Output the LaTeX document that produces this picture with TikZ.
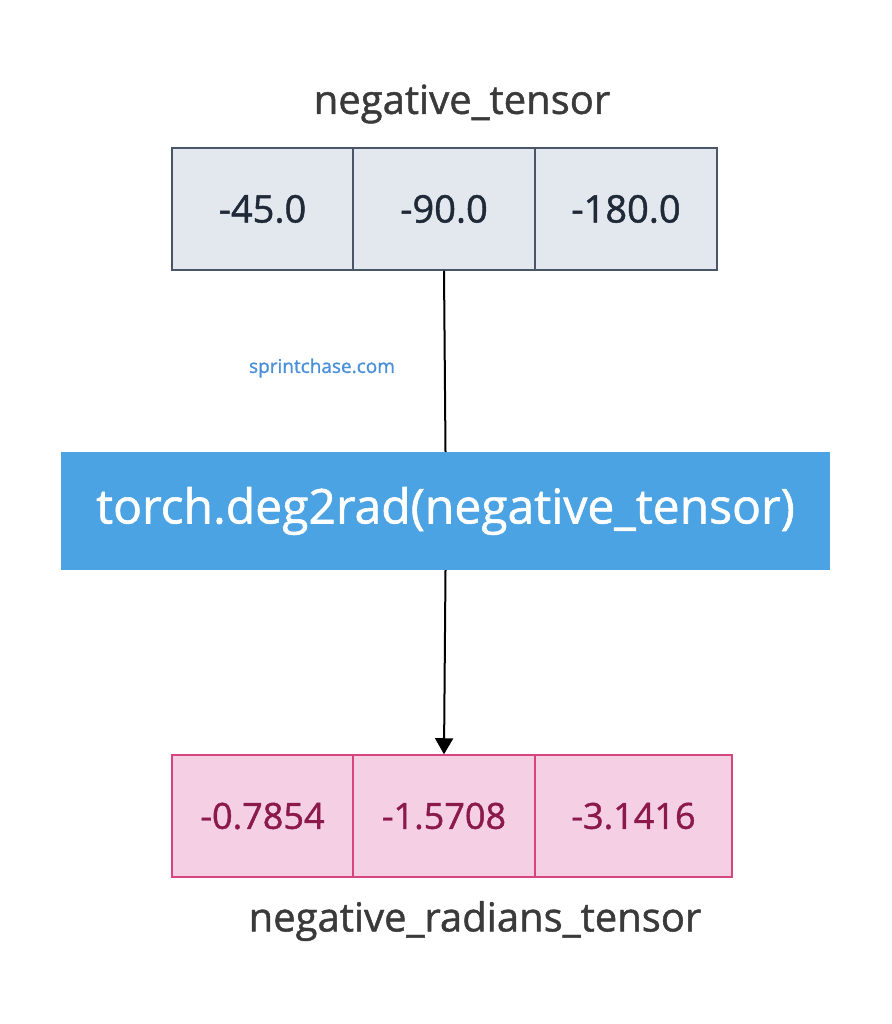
\documentclass[tikz,border=0pt]{standalone}
\usepackage{fontspec}
\setmainfont{Open Sans}
\newfontfamily\medfont{Open Sans}[FakeBold=1.2]
\usetikzlibrary{arrows.meta}
\definecolor{gfill}{HTML}{E3E7EE}
\definecolor{gdraw}{HTML}{4A5568}
\definecolor{gtext}{HTML}{1F2937}
\definecolor{pfill}{HTML}{F5D0E4}
\definecolor{pdraw}{HTML}{D6457E}
\definecolor{ptext}{HTML}{8B1A4A}
\definecolor{bfill}{HTML}{4BA3E3}
\definecolor{ltext}{HTML}{3A3A3A}
\definecolor{wm}{HTML}{4A90D9}
\tikzset{
 gcell/.style={draw=gdraw,line width=1.5pt,fill=gfill,text=gtext,font=\medfont\fontsize{38}{40}\selectfont,inner sep=0},
 pcell/.style={draw=pdraw,line width=1.5pt,fill=pfill,text=ptext,font=\medfont\fontsize{36}{40}\selectfont,inner sep=0},
 lbl/.style={text=ltext,font=\medfont\fontsize{40}{44}\selectfont},
}
\begin{document}
\begin{tikzpicture}[x=1pt,y=-1pt]
\useasboundingbox (0,0) rectangle (891,1024);
\node[gcell,minimum width=181,minimum height=122] (g1) at (262.5,209) {-45.0};
\node[gcell,minimum width=182,minimum height=122] (g2) at (444,209) {-90.0};
\node[gcell,minimum width=182,minimum height=122] (g3) at (626,209) {-180.0};
\node[lbl] (t1) at (462,104) {negative\_tensor};
\node[fill=bfill,minimum width=769,minimum height=118,text=white,font=\medfont\fontsize{48}{52}\selectfont,inner sep=0] (fn) at (445.5,511) {torch.deg2rad(negative\_tensor)};
\node[text=wm,font=\medfont\fontsize{19}{22}\selectfont] (wmk) at (322,368) {sprintchase.com};
\node[pcell,minimum width=181,minimum height=122] (p1) at (262.5,816) {-0.7854};
\node[pcell,minimum width=182,minimum height=122] (p2) at (444,816) {-1.5708};
\node[pcell,minimum width=197,minimum height=122] (p3) at (633.5,816) {-3.1416};
\node[lbl] (t2) at (475,921) {negative\_radians\_tensor};
\draw[line width=2pt,black] (g2.south) -- (fn.north);
\draw[line width=2pt,black,-{Triangle[length=16pt,width=18pt]}] (fn.south) -- (p2.north);
\end{tikzpicture}
\end{document}
